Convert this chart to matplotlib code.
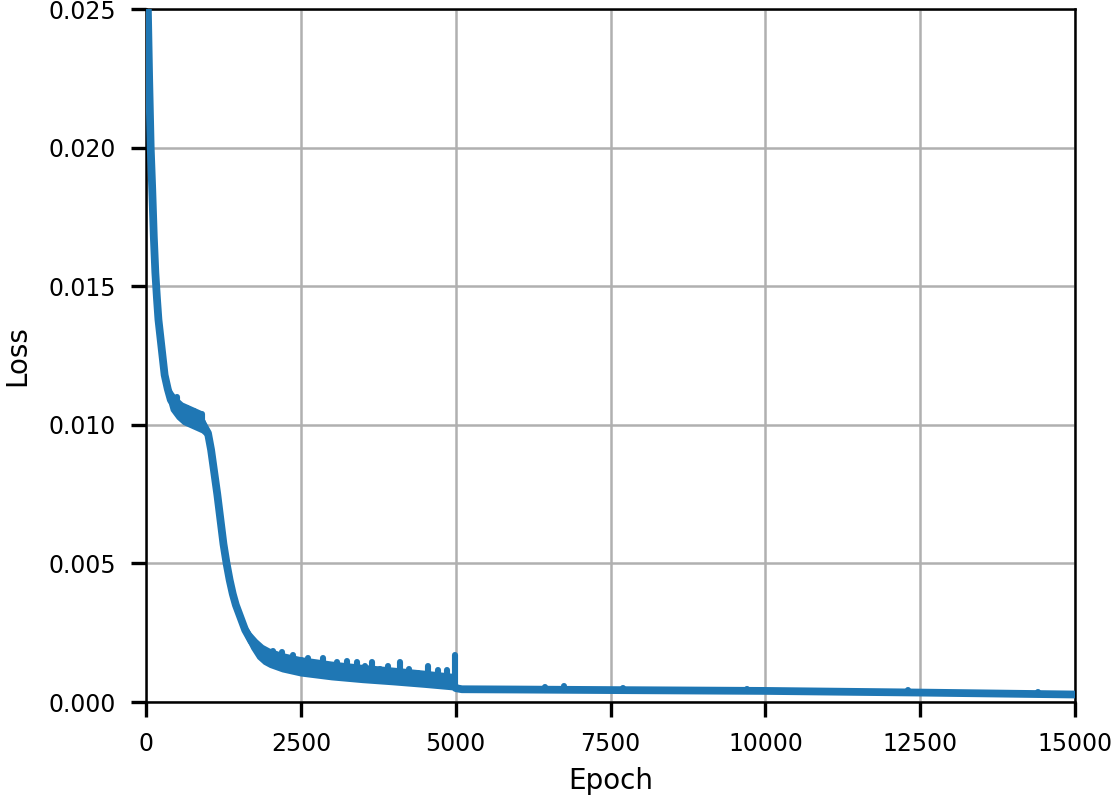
import numpy as np
import matplotlib
matplotlib.use("Agg")
import matplotlib.pyplot as plt

# loss curve (centre of the band)
epochs = [0, 25, 50, 75, 100, 125, 150, 175, 200, 250, 300, 350, 400, 500,
          600, 700, 800, 900, 950, 1000, 1050, 1100, 1150, 1200, 1250, 1300,
          1350, 1400, 1450, 1500, 1550, 1600, 1700, 1800, 1900, 2000, 2200,
          2500, 3000, 3500, 4000, 4500, 4950, 5000, 5100, 6000, 7500, 10000,
          12500, 15000]
loss = [0.0300, 0.0255, 0.0225, 0.0200, 0.0185, 0.0168, 0.0155, 0.0146,
        0.0138, 0.0128, 0.0118, 0.0113, 0.0109, 0.0106, 0.0104, 0.0103,
        0.0102, 0.0101, 0.0099, 0.0097, 0.0091, 0.0083, 0.0075, 0.0066,
        0.0057, 0.0050, 0.0044, 0.0039, 0.0035, 0.0032, 0.0029, 0.0026,
        0.0022, 0.0019, 0.0017, 0.00158, 0.00142, 0.00127, 0.00112, 0.00101,
        0.00092, 0.00082, 0.00072, 0.00050, 0.00046, 0.00045, 0.00043,
        0.00040, 0.00034, 0.00027]
# spread of the noisy band around the centre
noise = [0.0002, 0.0002, 0.0003, 0.0003, 0.0003, 0.0003, 0.0003, 0.0003,
         0.0003, 0.0003, 0.0004, 0.0004, 0.0004, 0.0004, 0.0004, 0.0004,
         0.0004, 0.0004, 0.0003, 0.0002, 0.0002, 0.0002, 0.0002, 0.0002,
         0.0002, 0.0002, 0.0002, 0.0002, 0.0002, 0.0002, 0.0002, 0.00025,
         0.0003, 0.00035, 0.00035, 0.00035, 0.00035, 0.00035, 0.00034,
         0.00033, 0.00032, 0.00031, 0.0003, 0.00008, 0.00008, 0.00008,
         0.00008, 0.00008, 0.00008, 0.00008]

# spikes sticking out of the top of the band
spike_epochs = [506, 660, 775, 905, 1810, 1950, 2050, 2190, 2380, 2500, 2620,
                2760, 2860, 3080, 3240, 3403, 3532, 3646, 3780, 3910, 4103,
                4250, 4394, 4557, 4720, 4857, 4981, 6440, 6740, 7700, 9700,
                12300, 14400]
spike_tops = [0.0110, 0.0106, 0.0105, 0.0104, 0.0020, 0.0018, 0.00185,
              0.0018, 0.0017, 0.0015, 0.0016, 0.0014, 0.0016, 0.00145,
              0.00148, 0.00145, 0.0013, 0.00145, 0.0012, 0.0013, 0.00145,
              0.0012, 0.00105, 0.0013, 0.00115, 0.00115, 0.00168, 0.00054,
              0.00058, 0.0005, 0.00048, 0.00042, 0.00035]

color = "#1f77b4"
e = np.array(epochs)
c = np.array(loss)
n = np.array(noise)

fig = plt.figure(figsize=(5.57, 4.0), dpi=200)
ax = fig.add_axes([0.1311, 0.1225, 0.834, 0.866])

ax.fill_between(e, c - n, c + n, color=color, linewidth=0, zorder=3)
ax.plot(e, c, color=color, linewidth=2.8, zorder=3)
# each spike starts at the middle of the band below it
spike_base = np.interp(spike_epochs, e, c)
spikes = ax.vlines(spike_epochs, spike_base, spike_tops,
                   color=color, linewidth=2.2, zorder=3)
spikes.set_capstyle("round")

ax.set_xlim(0, 15000)
ax.set_ylim(0, 0.025)
ax.set_xticks([0, 2500, 5000, 7500, 10000, 12500, 15000])
ax.set_yticks([0.0, 0.005, 0.010, 0.015, 0.020, 0.025])
ax.set_yticklabels(["0.000", "0.005", "0.010", "0.015", "0.020", "0.025"])
ax.grid(True, color="#b0b0b0", linewidth=0.9)
ax.set_axisbelow(True)
ax.tick_params(direction="out", length=5.4, width=1.2, pad=5.5,
               labelsize=8.5)
for s in ax.spines.values():
    s.set_linewidth(0.9)
ax.set_xlabel("Epoch", fontsize=10, labelpad=4)
ax.set_ylabel("Loss", fontsize=10, labelpad=6)

fig.savefig("out.png", dpi=200)
